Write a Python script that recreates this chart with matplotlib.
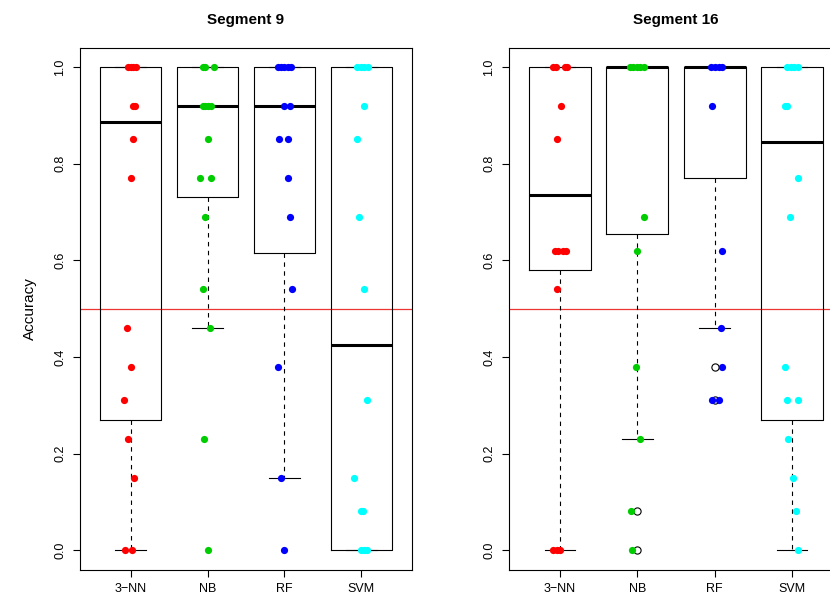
import matplotlib
matplotlib.use("Agg")
import matplotlib.pyplot as plt

plt.rcParams['font.family'] = ['Liberation Sans', 'DejaVu Sans']

# --- data ---
models = ["3\u2212NN", "NB", "RF", "SVM"]
colors = ["#ff0000", "#00cd00", "#0000ff", "#00ffff"]

# Segment 9: accuracies per model, with the horizontal jitter seen in the plot
seg9_knn = [1.0, 1.0, 1.0, 1.0, 0.92, 0.92, 0.85, 0.77, 0.46, 0.38, 0.31, 0.23, 0.15, 0.0, 0.0]
seg9_knn_dx = [-0.03, 0.0, 0.03, 0.07, 0.03, 0.06, 0.03, 0.01, -0.05, 0.0, -0.09, -0.04, 0.04, -0.07, 0.02]
seg9_nb = [1.0, 1.0, 1.0, 0.92, 0.92, 0.92, 0.92, 0.85, 0.77, 0.77, 0.69, 0.54, 0.46, 0.23, 0.0]
seg9_nb_dx = [-0.065, -0.03, 0.08, -0.06, -0.03, 0.01, 0.05, 0.0, -0.1, 0.05, -0.03, -0.06, 0.03, -0.05, 0.0]
seg9_rf = [1.0, 1.0, 1.0, 1.0, 1.0, 0.92, 0.92, 0.85, 0.85, 0.77, 0.69, 0.54, 0.38, 0.15, 0.0]
seg9_rf_dx = [-0.08, -0.04, 0.0, 0.04, 0.09, 0.0, 0.07, -0.07, 0.04, 0.05, 0.07, 0.1, -0.08, -0.04, 0.0]
seg9_svm = [1.0, 1.0, 1.0, 1.0, 0.92, 0.85, 0.69, 0.54, 0.31, 0.15, 0.08, 0.08, 0.0, 0.0, 0.0]
seg9_svm_dx = [-0.05, 0.0, 0.04, 0.09, 0.04, -0.06, -0.03, 0.04, 0.08, -0.09, 0.0, 0.02, -0.01, 0.03, 0.07]

# Segment 16
seg16_knn = [1.0, 1.0, 1.0, 1.0, 0.92, 0.85, 0.62, 0.62, 0.62, 0.62, 0.54, 0.0, 0.0, 0.0]
seg16_knn_dx = [-0.09, -0.05, 0.06, 0.09, 0.01, -0.04, -0.07, -0.02, 0.04, 0.08, -0.04, -0.09, -0.04, 0.0]
seg16_nb = [1.0, 1.0, 1.0, 1.0, 1.0, 0.69, 0.62, 0.38, 0.23, 0.08, 0.0]
seg16_nb_dx = [-0.09, -0.05, 0.0, 0.04, 0.08, 0.08, 0.0, -0.02, 0.04, -0.08, -0.07]
seg16_rf = [1.0, 1.0, 1.0, 1.0, 0.92, 0.62, 0.46, 0.38, 0.31, 0.31]
seg16_rf_dx = [-0.05, 0.0, 0.05, 0.09, -0.04, 0.09, 0.08, 0.10, -0.04, 0.06]
seg16_svm = [1.0, 1.0, 1.0, 1.0, 0.92, 0.92, 0.77, 0.69, 0.38, 0.31, 0.31, 0.23, 0.15, 0.08, 0.0]
seg16_svm_dx = [-0.06, -0.01, 0.03, 0.08, -0.09, -0.06, 0.08, -0.03, -0.09, -0.06, 0.08, -0.05, 0.01, 0.05, 0.08]

# box statistics (Tukey hinges as drawn)
seg9_lo = [0.0, 0.46, 0.15, 0.0]
seg9_q1 = [0.27, 0.73, 0.615, 0.0]
seg9_med = [0.885, 0.92, 0.92, 0.425]
seg9_q3 = [1.0, 1.0, 1.0, 1.0]
seg9_hi = [1.0, 1.0, 1.0, 1.0]
seg9_out = [[], [], [], []]

seg16_lo = [0.0, 0.23, 0.46, 0.0]
seg16_q1 = [0.58, 0.654, 0.77, 0.27]
seg16_med = [0.735, 1.0, 1.0, 0.845]
seg16_q3 = [1.0, 1.0, 1.0, 1.0]
seg16_hi = [1.0, 1.0, 1.0, 1.0]
seg16_out = [[], [0.08, 0.0], [0.38, 0.31], []]

threshold = 0.5


def draw_panel(ax, title, lo, q1, med, q3, hi, out, points):
    stats = []
    for i in range(len(models)):
        stats.append({"whislo": lo[i], "q1": q1[i], "med": med[i], "q3": q3[i],
                      "whishi": hi[i], "fliers": out[i], "label": models[i]})
    ax.bxp(stats, positions=[1, 2, 3, 4], widths=0.8, capwidths=0.4,
           boxprops=dict(color="black", linewidth=0.8),
           medianprops=dict(color="black", linewidth=2.2, solid_capstyle="butt"),
           whiskerprops=dict(color="black", linewidth=0.8, linestyle=(0, (4, 4))),
           capprops=dict(color="black", linewidth=0.8),
           flierprops=dict(marker="o", markerfacecolor="none", markeredgecolor="black",
                           markersize=5.2, markeredgewidth=0.8),
           zorder=2)
    ax.axhline(threshold, color="#ee3333", linewidth=0.9, zorder=1)
    for i, (vals, dx) in enumerate(points):
        xs = [i + 1 + d for d in dx]
        ax.plot(xs, vals, "o", color=colors[i], markersize=5.2, markeredgewidth=0,
                linestyle="none", zorder=3)
    ax.set_xlim(0.34, 4.66)
    ax.set_ylim(-0.04, 1.04)
    ax.set_xticks([1, 2, 3, 4])
    ax.set_xticklabels(models, fontsize=9)
    ax.set_yticks([0.0, 0.2, 0.4, 0.6, 0.8, 1.0])
    ax.set_yticklabels(["0.0", "0.2", "0.4", "0.6", "0.8", "1.0"], fontsize=9,
                       rotation=90, va="center")
    ax.tick_params(direction="out", length=5, width=0.8, pad=5)
    for s in ax.spines.values():
        s.set_linewidth(0.8)
    ax.set_title(title, fontsize=11, fontweight="bold", pad=17)


fig = plt.figure(figsize=(8.3, 6), dpi=100)
ax1 = fig.add_axes([80 / 830, 30.5 / 600, 332 / 830, 522 / 600])
ax2 = fig.add_axes([509 / 830, 30.5 / 600, 334 / 830, 522 / 600])

draw_panel(ax1, "Segment 9", seg9_lo, seg9_q1, seg9_med, seg9_q3, seg9_hi, seg9_out,
           [(seg9_knn, seg9_knn_dx), (seg9_nb, seg9_nb_dx),
            (seg9_rf, seg9_rf_dx), (seg9_svm, seg9_svm_dx)])
draw_panel(ax2, "Segment 16", seg16_lo, seg16_q1, seg16_med, seg16_q3, seg16_hi, seg16_out,
           [(seg16_knn, seg16_knn_dx), (seg16_nb, seg16_nb_dx),
            (seg16_rf, seg16_rf_dx), (seg16_svm, seg16_svm_dx)])

ax1.set_ylabel("Accuracy", fontsize=11, labelpad=12)

fig.savefig("out.png", dpi=100)
